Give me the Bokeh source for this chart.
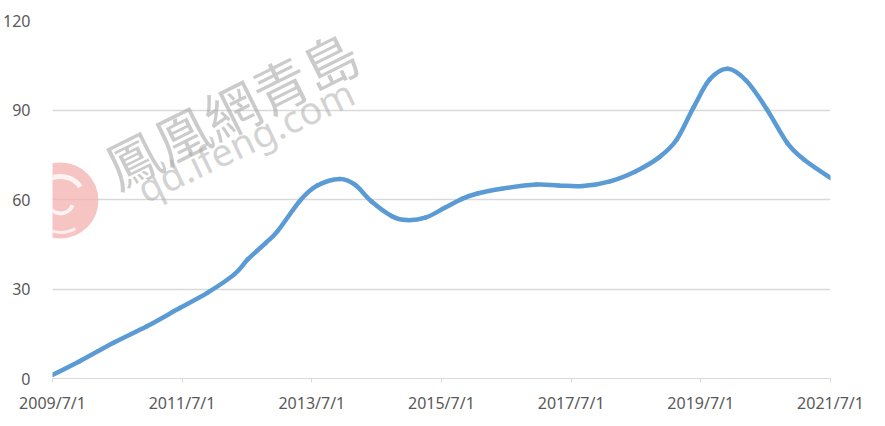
import math
import numpy as np
import pandas as pd
from bokeh.plotting import figure
from bokeh.models import Range1d, FixedTicker, Label
from bokeh.embed import file_html
from bokeh.resources import INLINE

# ---- data ----
dates = ["2009-07-01", "2009-12-01", "2010-06-10", "2010-12-15", "2011-06-20",
         "2011-11-20", "2012-04-20", "2012-07-05", "2012-10-15", "2012-12-20",
         "2013-05-01", "2013-08-01", "2013-12-05", "2014-03-01", "2014-06-01",
         "2014-09-25", "2014-12-15", "2015-04-01", "2015-07-20", "2015-10-25",
         "2016-01-20", "2016-06-05", "2016-12-15", "2017-04-20", "2017-09-05",
         "2018-02-05", "2018-07-01", "2018-11-10", "2019-02-15", "2019-05-20",
         "2019-08-20", "2019-12-01", "2020-03-15", "2020-07-08", "2020-10-30",
         "2021-02-01", "2021-07-01"]
values = [1.2, 5.8, 12.0, 17.5, 23.7,
          28.7, 34.9, 39.9, 45.5, 49.4,
          60.0, 64.7, 66.9, 65.0, 59.4,
          54.4, 53.1, 53.9, 57.2, 60.2,
          62.0, 63.6, 65.0, 64.7, 64.5,
          66.1, 69.5, 74.2, 80.0, 90.7,
          100.2, 103.8, 99.7, 90.2, 79.0,
          73.4, 67.2]
x_tick_labels = ["2009/7/1", "2011/7/1", "2013/7/1", "2015/7/1",
                 "2017/7/1", "2019/7/1", "2021/7/1"]
y_ticks = [0, 30, 60, 90, 120]

x_ms = np.array([pd.Timestamp(d).value // 10**6 for d in dates], dtype=float)
y_v = np.array(values, dtype=float)
tick_dt = pd.to_datetime(x_tick_labels, format="%Y/%m/%d")
tick_ms = [int(t.value // 10**6) for t in tick_dt]

# smoothed line (like a spreadsheet "smoothed line"): cubic Bezier segments
# passing through every data point (Catmull-Rom control points)
xp = np.concatenate([[x_ms[0]], x_ms, [x_ms[-1]]])
yp = np.concatenate([[y_v[0]], y_v, [y_v[-1]]])
x0, y0 = xp[1:-2], yp[1:-2]
x1, y1 = xp[2:-1], yp[2:-1]
cx0 = x0 + (xp[2:-1] - xp[0:-3]) / 6.0
cy0 = y0 + (yp[2:-1] - yp[0:-3]) / 6.0
cx1 = x1 - (xp[3:] - xp[1:-2]) / 6.0
cy1 = y1 - (yp[3:] - yp[1:-2]) / 6.0

FONT = "Noto Sans"
LABEL_COLOR = "#595959"
GRID_COLOR = "#d9d9d9"

p = figure(width=869, height=416, output_backend="svg", toolbar_location=None,
           x_axis_type="datetime",
           x_range=Range1d(tick_ms[0], tick_ms[-1]),
           y_range=Range1d(0, 120),
           min_border_left=52, min_border_right=39,
           min_border_top=20, min_border_bottom=38)
p.outline_line_color = None
p.background_fill_color = "white"
p.border_fill_color = "white"

# watermark logo (decorative)
logo_x = [pd.Timestamp("2009-08-15").value // 10**6]
logo_y = [59.7]
p.scatter(logo_x, logo_y, size=76, fill_color="#f4b0b0", fill_alpha=0.75, line_color=None)
p.arc(logo_x, logo_y, radius=24, radius_units="screen", start_angle=0.6, end_angle=2.9,
      line_color="white", line_width=5, line_alpha=0.8)
p.arc(logo_x, logo_y, radius=13, radius_units="screen", start_angle=3.4, end_angle=5.9,
      line_color="white", line_width=4, line_alpha=0.8)
p.arc(logo_x, logo_y, radius=32, radius_units="screen", start_angle=3.7, end_angle=5.2,
      line_color="white", line_width=3, line_alpha=0.7)

p.add_layout(Label(x=pd.Timestamp("2010-05-07").value // 10**6, y=70.0, text="鳳凰網青島",
                   angle=math.radians(26.5),
                   text_font="Noto Sans CJK TC", text_font_size="55px",
                   text_color="#a8a8a8", text_alpha=0.6, text_baseline="alphabetic"))
p.add_layout(Label(x=pd.Timestamp("2010-11-01").value // 10**6, y=63.0, text="qd.ifeng.com",
                   angle=math.radians(25.5),
                   text_font=FONT, text_font_size="38px",
                   text_color="#a8a8a8", text_alpha=0.5, text_baseline="alphabetic"))

p.bezier(x0=x0, y0=y0, x1=x1, y1=y1, cx0=cx0, cy0=cy0, cx1=cx1, cy1=cy1,
         line_color="#5b9bd5", line_width=4.5, line_cap="round")

# axes
p.xaxis.ticker = FixedTicker(ticks=tick_ms)
p.xaxis.major_label_overrides = {t: lab for t, lab in zip(tick_ms, x_tick_labels)}
p.xaxis.minor_tick_line_color = None
p.xaxis.axis_line_color = GRID_COLOR
p.xaxis.major_tick_line_color = GRID_COLOR
p.xaxis.major_tick_out = 4
p.xaxis.major_tick_in = 0
p.xaxis.major_label_standoff = 9
p.xaxis.major_label_text_font = FONT
p.xaxis.major_label_text_font_size = "16px"
p.xaxis.major_label_text_color = LABEL_COLOR

p.yaxis.ticker = FixedTicker(ticks=y_ticks)
p.yaxis.axis_line_color = None
p.yaxis.major_tick_line_color = None
p.yaxis.minor_tick_line_color = None
p.yaxis.major_label_standoff = 16
p.yaxis.major_label_text_font = FONT
p.yaxis.major_label_text_font_size = "16px"
p.yaxis.major_label_text_color = LABEL_COLOR

p.xgrid.grid_line_color = None
p.ygrid.grid_line_color = GRID_COLOR
p.ygrid.grid_line_width = 1.5

open("out.html", "w").write(file_html(p, INLINE))
